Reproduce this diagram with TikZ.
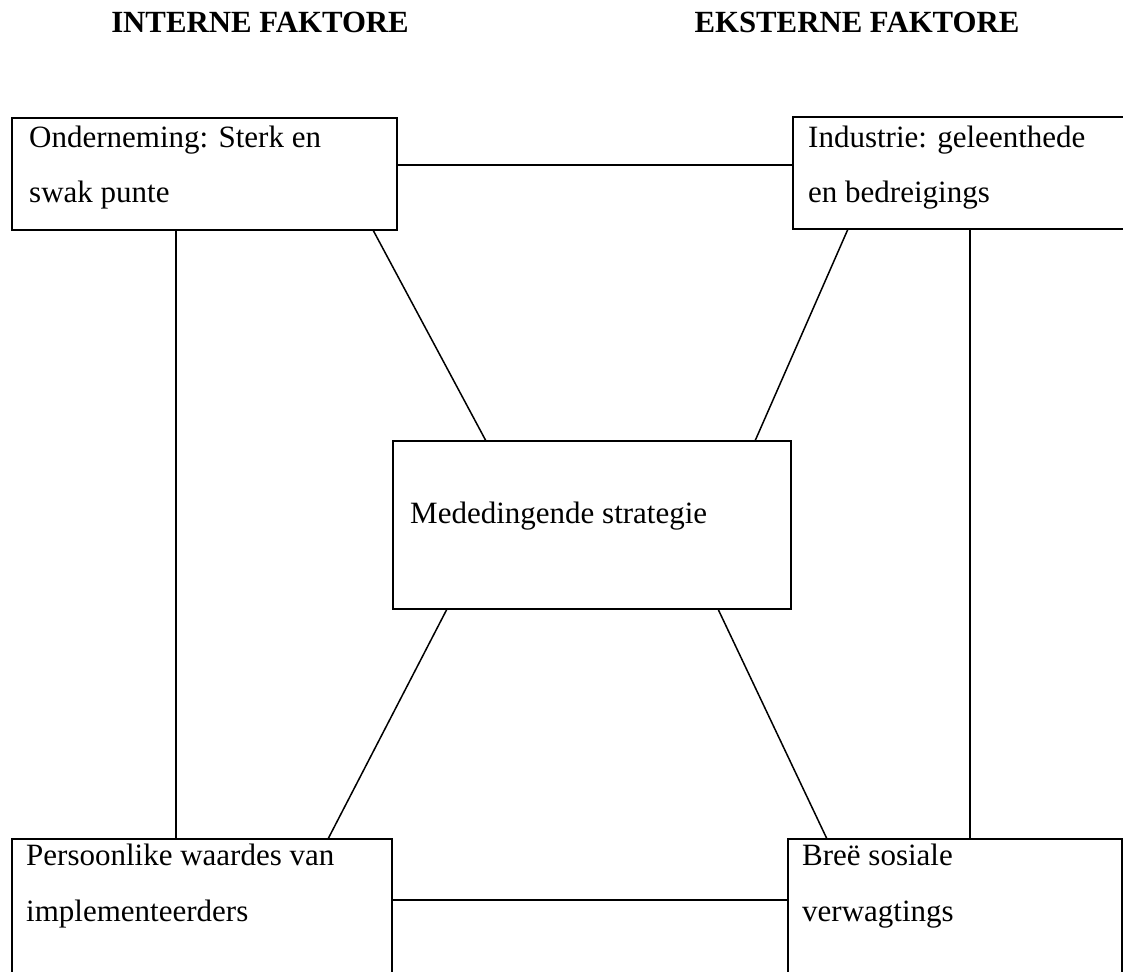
\documentclass[tikz,border=0pt]{standalone}
\usepackage{fontspec}
\setmainfont{Liberation Serif}
\usetikzlibrary{calc}
\tikzset{
  boxnode/.style={draw, line width=1.5pt, inner sep=0pt, outer sep=0pt, anchor=north west},
  txt/.style={anchor=base west, inner sep=0pt, font=\fontsize{31}{55}\selectfont},
  head/.style={anchor=base, inner sep=0pt, font=\fontsize{30.8}{36}\selectfont\bfseries},
  conn/.style={line width=1.5pt}
}
\begin{document}
\begin{tikzpicture}[x=1pt,y=-1pt]
\useasboundingbox (0,0) rectangle (1123,971);
\clip (0,0) rectangle (1123,971);
\fill[white] (0,0) rectangle (1123,971);

% headers
\node[head] (hint) at (260,33) {INTERNE FAKTORE};
\node[head] (hext) at (857,33) {EKSTERNE FAKTORE};

% boxes
\node[boxnode, minimum width=385pt, minimum height=112pt] (tl) at (12,118) {};
\node[boxnode, minimum width=345pt, minimum height=112pt] (tr) at (793,117) {};
\node[boxnode, minimum width=398pt, minimum height=168pt] (ctr) at (393,441) {};
\node[boxnode, minimum width=380pt, minimum height=150pt] (bl) at (12,839) {};
\node[boxnode, minimum width=334pt, minimum height=150pt] (br) at (788,839) {};

% texts
\node[txt] (tla) at (29,147) {Onderneming: Sterk en};
\node[txt] (tlb) at (29,202) {swak punte};
\node[txt] (tra) at (808,147) {Industrie: geleenthede};
\node[txt] (trb) at (808,202) {en bedreigings};
\node[txt] (ctra) at (410,523) {Mededingende strategie};
\node[txt] (bla) at (26,865) {Persoonlike waardes van};
\node[txt] (blb) at (26,921) {implementeerders};
\node[txt] (bra) at (802,865) {Breë sosiale};
\node[txt] (brb) at (802,921) {verwagtings};

% connectors
\draw[conn] ([yshift=9pt]tl.east) -- ([yshift=9pt]tl.east -| tr.west);
\draw[conn] ([yshift=14pt]bl.east) -- ([yshift=14pt]bl.east -| br.west);
\coordinate (lv) at ($(tl.south west)+(164,0)$);
\draw[conn] (lv) -- (lv |- bl.north);
\coordinate (rv) at ($(tr.south west)+(177,0)$);
\draw[conn] (rv) -- (rv |- br.north);
\draw[conn] ($(tl.south west)+(361,0)$) -- ($(ctr.north west)+(93,0)$);
\draw[conn] ($(tr.south west)+(55,0)$) -- ($(ctr.north west)+(362,0)$);
\draw[conn] ($(ctr.south west)+(54,0)$) -- ($(bl.north west)+(316,0)$);
\draw[conn] ($(ctr.south west)+(325,0)$) -- ($(br.north west)+(39,0)$);
\end{tikzpicture}
\end{document}
